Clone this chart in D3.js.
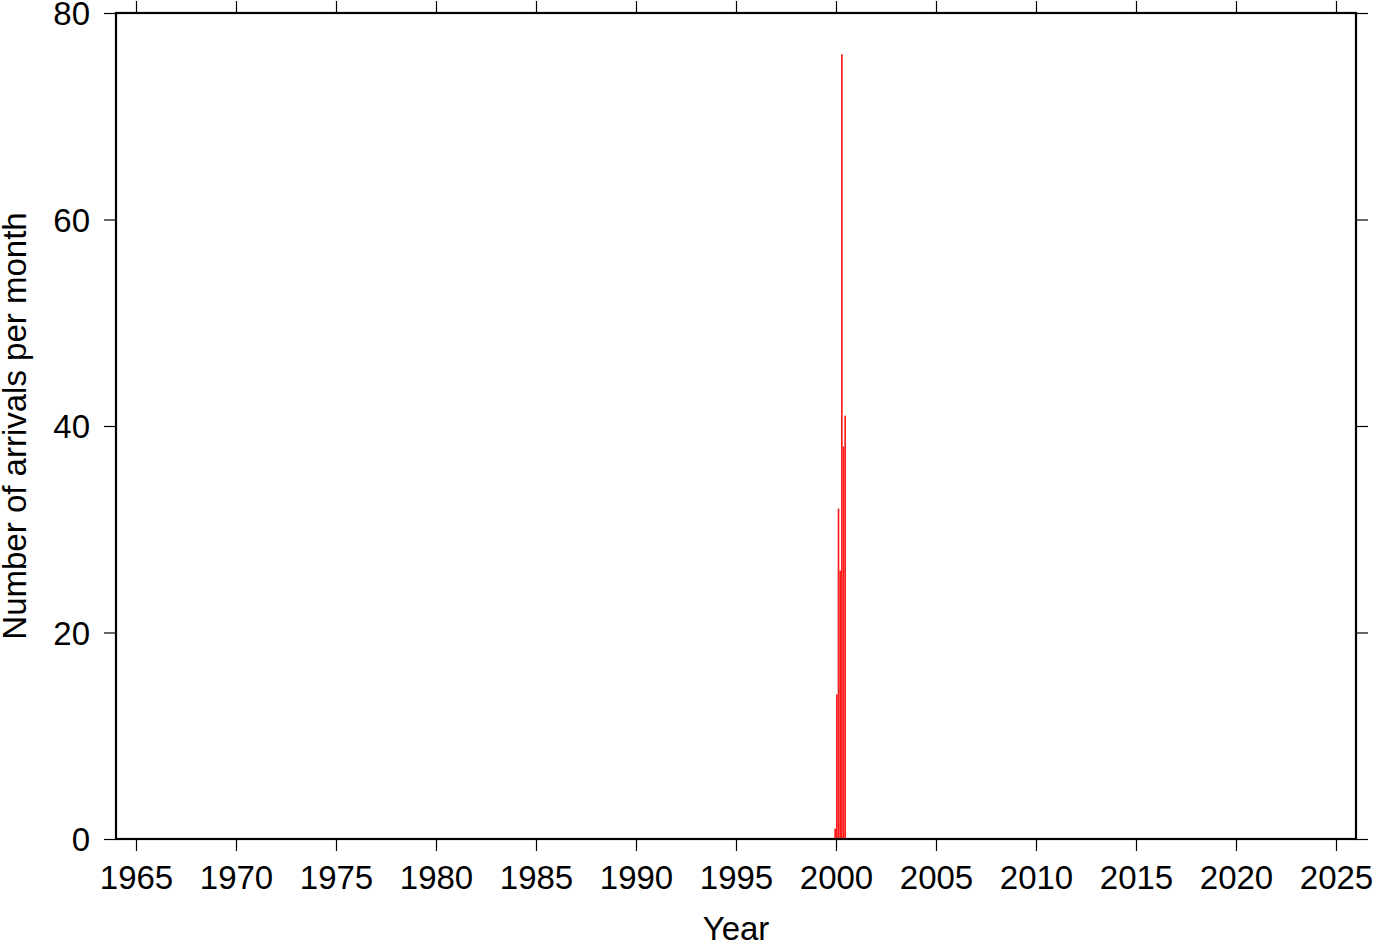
<!DOCTYPE html>
<html>
<head>
<meta charset="utf-8">
<script src="https://cdn.jsdelivr.net/npm/d3@7"></script>
<style>
  html, body { margin: 0; padding: 0; background: #fff; }
  svg text { font-family: "Liberation Sans", Arial, Helvetica, sans-serif; fill: #000; }
</style>
</head>
<body>
<svg id="chart" width="1382" height="942"></svg>
<script>
// Monthly arrival counts (year, month, count)
const years  = [1999, 2000, 2000, 2000, 2000, 2000, 2000];
const months = [12, 1, 2, 3, 4, 5, 6];
const counts = [1, 14, 32, 26, 76, 38, 41];

const xTicks = [1965, 1970, 1975, 1980, 1985, 1990, 1995, 2000, 2005, 2010, 2015, 2020, 2025];
const yTicks = [0, 20, 40, 60, 80];
const xDomain = [1964, 2026];
const yDomain = [0, 80];

(function () {
const svg = d3.select("#chart");
const L = 116, R = 1356, T = 13, B = 839;

const x = d3.scaleLinear().domain(xDomain).range([L, R]);
const y = d3.scaleLinear().domain(yDomain).range([B, T]);

const data = counts.map((c, i) => ({
  start: years[i] + (months[i] - 1) / 12,
  end: years[i] + months[i] / 12,
  value: c
}));

// bars
svg.append("g").selectAll("rect").data(data).join("rect")
  .attr("x", d => x(d.start))
  .attr("width", d => x(d.end) - x(d.start))
  .attr("y", d => y(d.value))
  .attr("height", d => y(0) - y(d.value))
  .attr("fill", "#ff1a1a");

const fs = 33;
const gBottom = svg.append("g").attr("transform", `translate(0,${B})`)
  .call(d3.axisBottom(x).tickValues(xTicks).tickFormat(d3.format("d")).tickSize(12).tickPadding(15));
const gTop = svg.append("g").attr("transform", `translate(0,${T})`)
  .call(d3.axisTop(x).tickValues(xTicks).tickFormat("").tickSize(12));
const gLeft = svg.append("g").attr("transform", `translate(${L},0)`)
  .call(d3.axisLeft(y).tickValues(yTicks).tickFormat(d3.format("d")).tickSize(12).tickPadding(14));
const gRight = svg.append("g").attr("transform", `translate(${R},0)`)
  .call(d3.axisRight(y).tickValues(yTicks).tickFormat("").tickSize(12));

[gBottom, gTop, gLeft, gRight].forEach(g => {
  g.select(".domain").remove();
  g.selectAll(".tick line").attr("stroke", "#000").attr("stroke-width", 1.2);
  g.selectAll(".tick text").attr("font-size", fs).attr("font-family", "Liberation Sans, Arial, sans-serif");
});
gLeft.selectAll(".tick text").attr("dy", "0.36em");

// frame
svg.append("rect")
  .attr("x", L).attr("y", T)
  .attr("width", R - L).attr("height", B - T)
  .attr("fill", "none").attr("stroke", "#000").attr("stroke-width", 2.2);

// labels
svg.append("text")
  .attr("x", (L + R) / 2).attr("y", 940)
  .attr("text-anchor", "middle").attr("font-size", fs)
  .text("Year");

svg.append("text")
  .attr("transform", `translate(26,${(T + B) / 2}) rotate(-90)`)
  .attr("text-anchor", "middle").attr("font-size", fs)
  .text("Number of arrivals per month");
})();
</script>
</body>
</html>
